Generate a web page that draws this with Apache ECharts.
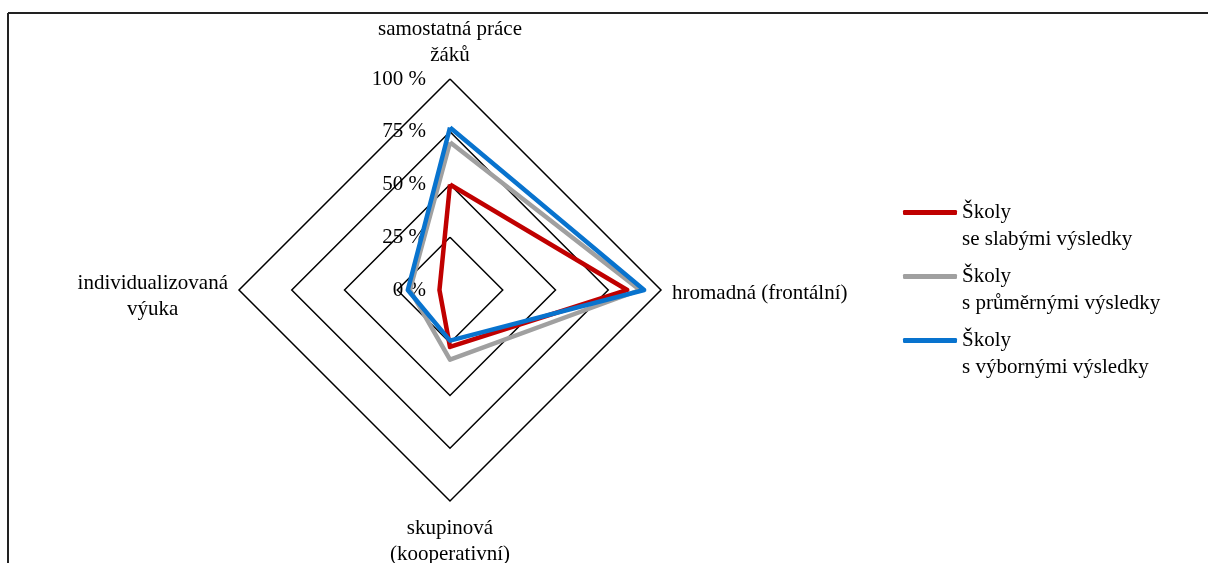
<!DOCTYPE html>
<html>
<head>
<meta charset="utf-8">
<script src="https://cdn.jsdelivr.net/npm/echarts@6/dist/echarts.min.js"></script>
<style>
html,body{margin:0;padding:0;background:#fff;}
#chart{width:1208px;height:563px;}
</style>
</head>
<body>
<div id="chart"></div>
<script>
// Axes in ECharts radar order (counter-clockwise from top)
const categories = ['samostatná práce\nžáků', 'individualizovaná\nvýuka', 'skupinová\n(kooperativní)', 'hromadná (frontální)'];
const tickLabels = ['0 %', '25 %', '50 %', '75 %', '100 %'];
const seriesNames = ['Školy\nse slabými výsledky', 'Školy\ns průměrnými výsledky', 'Školy\ns výbornými výsledky'];
const weakValues = [50, 5, 27, 84];
const averageValues = [70, 19, 33, 90];
const excellentValues = [77, 20, 24, 92];
const colors = ['#C00000', '#A0A0A0', '#0873CE'];

const FONT = '"Liberation Serif", "Times New Roman", serif';
const FS = 21;
const chart = echarts.init(document.getElementById('chart'));

const indicator = categories.map((name, i) => ({
  name: name, min: 0, max: 100,
  axisLabel: { show: i === 0 }
}));
// small vertical nudges of the name blocks (spacer line heights)
const nameSpacer = [0, 12, 3, 6];

const valuesList = [weakValues, averageValues, excellentValues];

chart.setOption({
  animation: false,
  backgroundColor: '#fff',
  graphic: [
    { type: 'line', shape: { x1: 8, y1: 13, x2: 1208, y2: 13 }, style: { stroke: '#222', lineWidth: 2 } },
    { type: 'line', shape: { x1: 8, y1: 13, x2: 8, y2: 563 }, style: { stroke: '#222', lineWidth: 2 } }
  ],
  legend: {
    orient: 'vertical',
    left: 898,
    top: 167,
    icon: 'roundRect',
    itemWidth: 54,
    itemHeight: 5,
    itemGap: -17,
    data: seriesNames,
    formatter: function (name) { return '\n' + name; },
    textStyle: {
      fontFamily: FONT, fontSize: FS, color: '#000', lineHeight: 27
    }
  },
  radar: {
    center: [450, 290],
    radius: 211,
    startAngle: 90,
    shape: 'polygon',
    splitNumber: 4,
    indicator: indicator,
    axisName: {
      color: '#000', fontFamily: FONT, fontSize: FS, lineHeight: 26,
      formatter: function (v) {
        const idx = categories.indexOf(v);
        const sp = nameSpacer[idx] || 0;
        const body = v.split('\n').map(s => '{c|' + s + '}').join('\n');
        return sp ? '{s' + sp + '|}\n' + body : body;
      },
      rich: {
        c: { align: 'center', fontFamily: FONT, fontSize: FS, lineHeight: 26, color: '#000' },
        s12: { lineHeight: 12, fontSize: 1 },
        s6: { lineHeight: 6, fontSize: 1 },
        s3: { lineHeight: 3, fontSize: 1 }
      }
    },
    nameGap: 11,
    axisLine: { show: false },
    axisTick: { show: false },
    axisLabel: {
      show: false,
      color: '#000', fontFamily: FONT, fontSize: FS,
      margin: 24,
      formatter: function (v) { return tickLabels[Math.round(v / 25)]; }
    },
    splitLine: { lineStyle: { color: '#000', width: 1.5 } },
    splitArea: { show: false }
  },
  series: [{
    type: 'radar',
    symbol: 'none',
    data: valuesList.map((vals, i) => ({
      name: seriesNames[i],
      value: vals,
      lineStyle: { color: colors[i], width: 4.5 },
      itemStyle: { color: colors[i] }
    }))
  }]
});
</script>
</body>
</html>
